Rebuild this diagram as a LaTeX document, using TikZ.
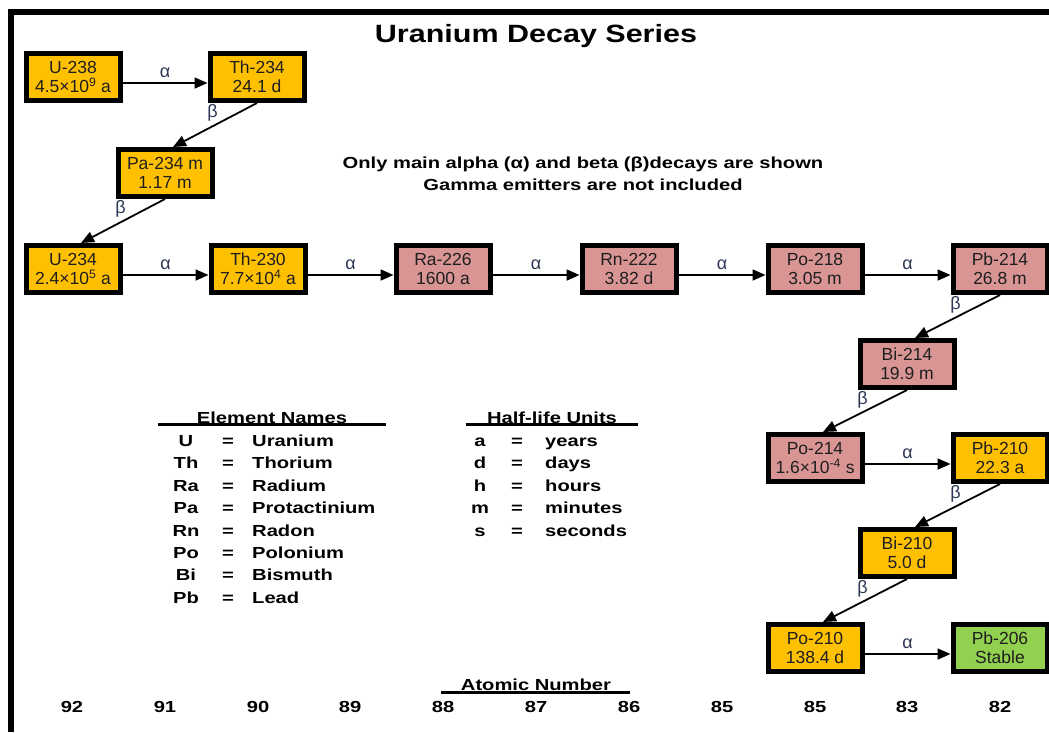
\documentclass[tikz,border=0pt]{standalone}
\usepackage{fontspec}
\setmainfont{Liberation Sans}
\newfontfamily\wb[FakeStretch=1.26]{Liberation Sans}
\newfontfamily\wt[FakeStretch=1.22]{Liberation Sans}
\usetikzlibrary{arrows.meta,shadows}
\definecolor{gold}{HTML}{FFC000}
\definecolor{rose}{HTML}{D99594}
\definecolor{leaf}{HTML}{92D050}
\definecolor{lbl}{RGB}{45,55,85}
\definecolor{ink}{RGB}{30,30,30}
\tikzset{
  nuc/.style={draw=black, line width=5pt, minimum width=94pt, minimum height=47pt,
    inner sep=0pt, align=center, font=\fontsize{17.5}{19}\selectfont, text=ink,
    drop shadow={shadow xshift=1.5pt, shadow yshift=-1.5pt, fill=black!35, opacity=1}},
  decay/.style={line width=1.8pt, -{Triangle[length=13pt,width=11pt]}},
  alab/.style={font=\fontsize{18}{18}\selectfont, text=lbl, inner sep=0pt},
  wide/.style={font=\wb\bfseries\fontsize{16}{19}\selectfont, inner sep=0pt},
  uline/.style={line width=3pt}
}
\begin{document}
\begin{tikzpicture}[x=1pt,y=-1pt]
\useasboundingbox (0,0) rectangle (1049,732);
% frame
\fill[black] (8,9) rectangle (1049,15);
\fill[black] (8,9) rectangle (14,732);
% title
\node[font=\wt\bfseries\fontsize{25}{30}\selectfont, anchor=base, inner sep=0pt] (title) at (536,42) {Uranium Decay Series};
% note
\node[wide, anchor=base] (note1) at (583,168) {Only main alpha (α) and beta (β)decays are shown};
\node[wide, anchor=base] (note2) at (583,190) {Gamma emitters are not included};
% nuclides
\node[nuc,fill=gold] (u238) at (73,77) {U-238\\4.5×10\textsuperscript{9} a};
\node[nuc,fill=gold] (th234) at (257,77) {Th-234\\24.1 d};
\node[nuc,fill=gold] (pa234) at (165,173) {Pa-234 m\\1.17 m};
\node[nuc,fill=gold] (u234) at (73,269) {U-234\\2.4×10\textsuperscript{5} a};
\node[nuc,fill=gold] (th230) at (258,269) {Th-230\\7.7×10\textsuperscript{4} a};
\node[nuc,fill=rose] (ra226) at (443,269) {Ra-226\\1600 a};
\node[nuc,fill=rose] (rn222) at (629,269) {Rn-222\\3.82 d};
\node[nuc,fill=rose] (po218) at (815,269) {Po-218\\3.05 m};
\node[nuc,fill=rose] (pb214) at (1000,269) {Pb-214\\26.8 m};
\node[nuc,fill=rose] (bi214) at (907,364) {Bi-214\\19.9 m};
\node[nuc,fill=rose] (po214) at (815,458) {Po-214\\1.6×10\textsuperscript{-4} s};
\node[nuc,fill=gold] (pb210) at (1000,458) {Pb-210\\22.3 a};
\node[nuc,fill=gold] (bi210) at (907,553) {Bi-210\\5.0 d};
\node[nuc,fill=gold] (po210) at (815,648) {Po-210\\138.4 d};
\node[nuc,fill=leaf] (pb206) at (1000,648) {Pb-206\\Stable};
% alpha decays
\foreach \a/\b in {u238/th234, u234/th230, th230/ra226, ra226/rn222, rn222/po218, po218/pb214, po214/pb210, po210/pb206}
  \draw[decay] ([yshift=-6pt]\a.east) -- node[alab, above=4pt]{α} ([yshift=-6pt]\b.west);
% beta decays
\foreach \a/\b in {th234/pa234, pa234/u234, pb214/bi214, bi214/po214, pb210/bi210, bi210/po210} {
  \draw[decay] (\a.south) -- ([xshift=8pt]\b.north);
  \node[alab] at ([shift={(5pt,-10pt)}]\a.south west) {β};
}
% legend: element names
\node[wide, anchor=base] (hdrE) at (272,423) {Element Names};
\draw[uline] (158,424.5) -- (386,424.5);
\foreach \s/\n/\y in {U/Uranium/446, Th/Thorium/468, Ra/Radium/491, Pa/Protactinium/513, Rn/Radon/536, Po/Polonium/558, Bi/Bismuth/580, Pb/Lead/603} {
  \node[wide, anchor=base] (es\s) at (186,\y) {\s};
  \node[wide, anchor=base] (eq\s) at (228,\y) {=};
  \node[wide, anchor=base west] (en\s) at (252,\y) {\n};
}
% legend: half-life units
\node[wide, anchor=base] (hdrH) at (552,423) {Half-life Units};
\draw[uline] (466,424.5) -- (638,424.5);
\foreach \s/\n/\y in {a/years/446, d/days/468, h/hours/491, m/minutes/513, s/seconds/536} {
  \node[wide, anchor=base] (hs\s) at (480,\y) {\s};
  \node[wide, anchor=base] (hq\s) at (517,\y) {=};
  \node[wide, anchor=base west] (hn\s) at (545,\y) {\n};
}
% atomic numbers
\node[wide, anchor=base] (hdrA) at (536,690) {Atomic Number};
\draw[uline] (441,692) -- (630,692);
\foreach \x/\z in {72/92, 165/91, 258/90, 350/89, 443/88, 536/87, 629/86, 722/85, 815/85, 907/83, 1000/82}
  \node[wide, anchor=base] (z\x) at (\x,712) {\z};
\end{tikzpicture}
\end{document}
